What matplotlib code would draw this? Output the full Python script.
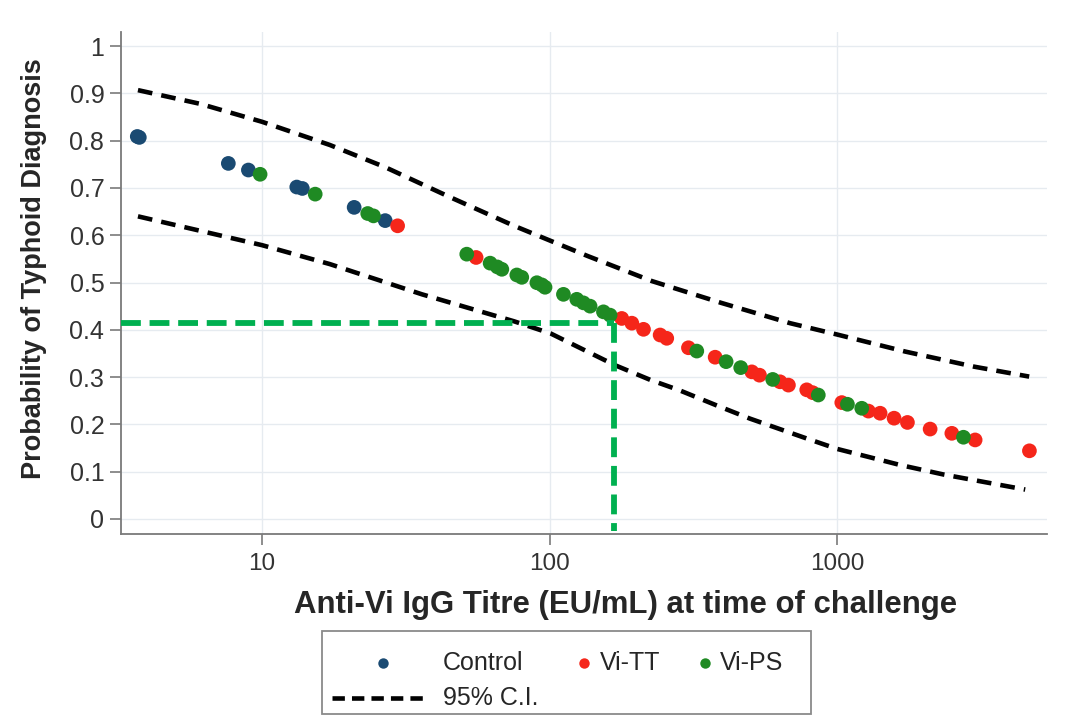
import matplotlib
matplotlib.use("Agg")
import matplotlib.pyplot as plt
from matplotlib.lines import Line2D
from matplotlib.patches import Rectangle
from matplotlib.ticker import FixedLocator, FixedFormatter, NullLocator

plt.rcParams['font.family'] = ['Liberation Sans', 'DejaVu Sans']

# ---- data ----
control_x = [3.68, 3.74, 7.63, 8.96, 13.2, 13.8, 20.9, 26.8]
control_y = [0.809, 0.807, 0.752, 0.738, 0.702, 0.699, 0.659, 0.631]

vitt_x = [29.6, 55.5, 178.2, 193.2, 212.1, 242.3, 255.5, 304, 376.5, 505, 537,
          633, 677, 784, 822, 1038, 1285, 1411, 1578, 1756, 2106, 2506, 3020, 4665]
vitt_y = [0.620, 0.553, 0.424, 0.414, 0.401, 0.389, 0.382, 0.362, 0.342, 0.311, 0.304,
          0.290, 0.283, 0.273, 0.267, 0.246, 0.228, 0.2235, 0.213, 0.204, 0.190, 0.181, 0.167, 0.144]

vips_x = [9.84, 15.3, 23.3, 24.4, 51.5, 62.1, 65.8, 68.2, 76.9, 80.0, 90.3, 94.0, 96.4,
          111.7, 124.3, 131.1, 138.3, 153.9, 162.3, 325, 411, 462, 597, 860, 1086, 1218, 2750]
vips_y = [0.729, 0.687, 0.646, 0.641, 0.560, 0.541, 0.533, 0.528, 0.516, 0.511, 0.4996, 0.495, 0.490,
          0.475, 0.4645, 0.457, 0.450, 0.438, 0.431, 0.355, 0.3326, 0.320, 0.295, 0.262, 0.2425, 0.234, 0.1727]

ci_upper_x = [3.7, 6.09, 10, 17.2, 26.8, 44.9, 75.2, 101, 135.7, 227, 395, 686, 1000, 1724, 2996, 4656]
ci_upper_y = [0.907, 0.878, 0.840, 0.791, 0.744, 0.681, 0.620, 0.588, 0.556, 0.503, 0.457, 0.414,
              0.390, 0.354, 0.322, 0.301]

ci_lower_x = [3.7, 10, 17.2, 36.0, 75.2, 101, 169, 224, 283, 381, 498, 784, 1000, 1656, 2339, 4510]
ci_lower_y = [0.640, 0.579, 0.539, 0.475, 0.418, 0.392, 0.325, 0.294, 0.272, 0.240, 0.212, 0.170,
              0.148, 0.114, 0.094, 0.062]

threshold_titre = 167.6
threshold_prob = 0.415

x_ticks = [10, 100, 1000]
x_ticklabels = ["10", "100", "1000"]
y_ticks = [0, 0.1, 0.2, 0.3, 0.4, 0.5, 0.6, 0.7, 0.8, 0.9, 1.0]
y_ticklabels = ["0", "0.1", "0.2", "0.3", "0.4", "0.5", "0.6", "0.7", "0.8", "0.9", "1"]

legend_labels = ["Control", "Vi-TT", "Vi-PS", "95% C.I."]

# ---- styling ----
C_CONTROL = '#1a4a72'
C_TT = '#f5261a'
C_PS = '#1f8a23'
C_THRESH = '#00b050'
GRID = '#e6ebf0'
AXC = '#7a7a7a'
TXT = '#262626'

fig = plt.figure(figsize=(10.76, 7.21), dpi=100)
ax = fig.add_axes([121/1076, 1 - 534/721, (1047 - 121)/1076, (534 - 32)/721])

ax.set_xscale('log')
ax.set_xlim(3.23, 5370)
ax.set_ylim(-0.032, 1.03)

for s in ['top', 'right']:
    ax.spines[s].set_visible(False)
for s in ['left', 'bottom']:
    ax.spines[s].set_color(AXC)
    ax.spines[s].set_linewidth(1.3)

ax.xaxis.set_major_locator(FixedLocator(x_ticks))
ax.xaxis.set_major_formatter(FixedFormatter(x_ticklabels))
ax.xaxis.set_minor_locator(NullLocator())
ax.yaxis.set_major_locator(FixedLocator(y_ticks))
ax.yaxis.set_major_formatter(FixedFormatter(y_ticklabels))

ax.tick_params(axis='x', which='major', length=8, width=1.2, color=AXC,
               labelsize=17.5, labelcolor='#333333', pad=6)
ax.tick_params(axis='y', which='major', length=8, width=1.2, color=AXC,
               labelsize=18, labelcolor='#333333', pad=4)
ax.grid(True, color=GRID, linewidth=1.0)
ax.set_axisbelow(True)

# CI lines
ax.plot(ci_upper_x, ci_upper_y, color='black', lw=3.3, dashes=(3.2, 2.0), zorder=2)
ax.plot(ci_lower_x, ci_lower_y, color='black', lw=3.3, dashes=(3.2, 2.0), zorder=2)

# threshold lines
ax.plot([ax.get_xlim()[0], threshold_titre], [threshold_prob, threshold_prob],
        color=C_THRESH, lw=4.2, dashes=(3.4, 1.5), zorder=4)
ax.plot([threshold_titre, threshold_titre], [threshold_prob, -0.025],
        color=C_THRESH, lw=4.2, dashes=(3.4, 1.5), zorder=4)

# points
ax.scatter(control_x, control_y, s=112, color=C_CONTROL, edgecolors='none', zorder=3)
ax.scatter(vitt_x, vitt_y, s=112, color=C_TT, edgecolors='none', zorder=3)
ax.scatter(vips_x, vips_y, s=112, color=C_PS, edgecolors='none', zorder=3)

ax.set_xlabel("Anti-Vi IgG Titre (EU/mL) at time of challenge", fontsize=22.4,
              fontweight='bold', color=TXT)
ax.xaxis.set_label_coords((626 - 121) / 926, -(605 - 534) / 502)
ax.set_ylabel("Probability of Typhoid Diagnosis", fontsize=19.5,
              fontweight='bold', color=TXT)
ax.yaxis.set_label_coords(-(121 - 34) / 926, (534 - 269) / 502)
ax.xaxis.label.set_verticalalignment('center')
ax.yaxis.label.set_verticalalignment('center')

# ---- legend (drawn as a box below the plot) ----
fig.patches.append(Rectangle((322/1076, 1 - 714/721), (811 - 322)/1076, (714 - 631)/721,
                             transform=fig.transFigure, facecolor='white',
                             edgecolor='#8a8a8a', lw=1.3))
row1 = 1 - 663/721
row2 = 1 - 698/721
fs = 18
fig.lines.append(Line2D([383/1076], [row1], marker='o', ms=7.5, color=C_CONTROL,
                        mec='none', ls='none', transform=fig.transFigure))
fig.text(443/1076, row1, legend_labels[0], fontsize=fs, va='center', color=TXT)
fig.lines.append(Line2D([584/1076], [row1], marker='o', ms=7.5, color=C_TT,
                        mec='none', ls='none', transform=fig.transFigure))
fig.text(600/1076, row1, legend_labels[1], fontsize=fs, va='center', color=TXT)
fig.lines.append(Line2D([705/1076], [row1], marker='o', ms=7.5, color=C_PS,
                        mec='none', ls='none', transform=fig.transFigure))
fig.text(720/1076, row1, legend_labels[2], fontsize=fs, va='center', color=TXT)
fig.lines.append(Line2D([332/1076, 425/1076], [row2, row2], color='black', lw=3.3,
                        dashes=(2.7, 1.55), transform=fig.transFigure))
fig.text(443/1076, row2, legend_labels[3], fontsize=fs, va='center', color=TXT)

fig.savefig("out.png", dpi=100, facecolor='white')
